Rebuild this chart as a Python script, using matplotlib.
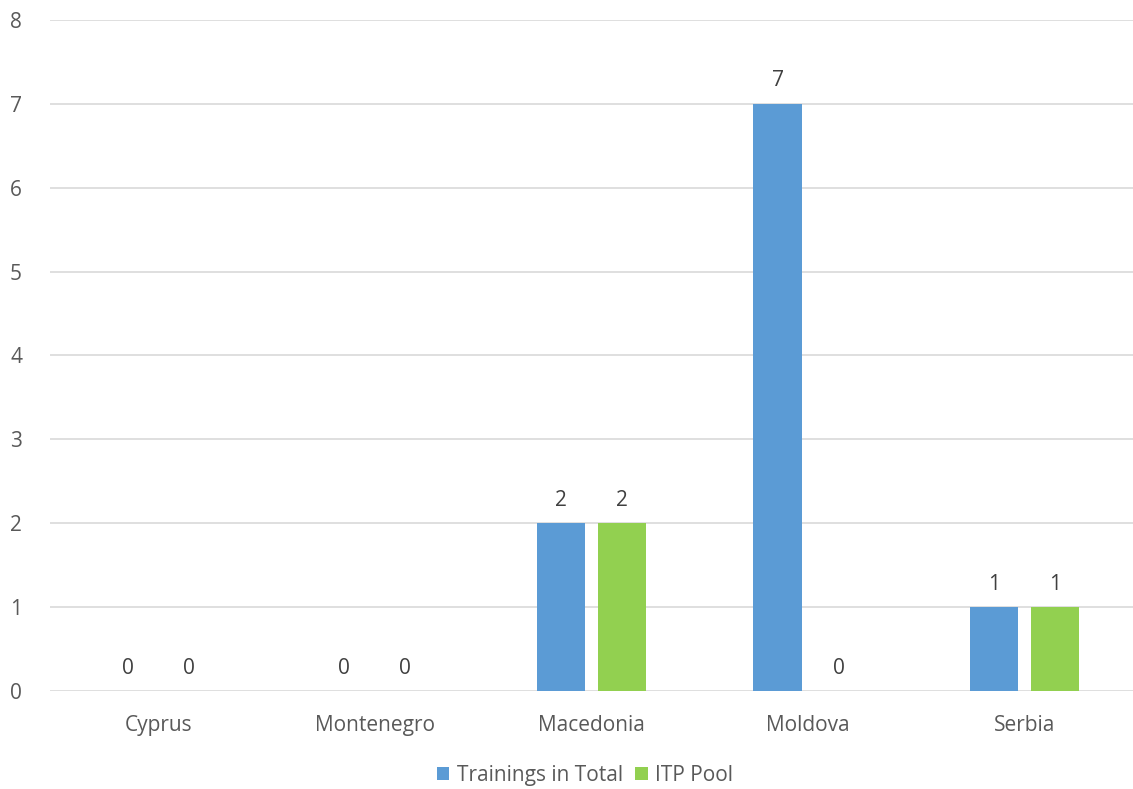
import matplotlib
matplotlib.use("Agg")
import matplotlib.pyplot as plt
import numpy as np

countries = ["Cyprus", "Montenegro", "Macedonia", "Moldova", "Serbia"]
trainings_total = [0, 0, 2, 7, 1]
itp_pool = [0, 0, 2, 0, 1]
series_names = ["Trainings in Total", "ITP Pool"]

plt.rcParams['font.family'] = ['Open Sans', 'DejaVu Sans']
text_color = '#595959'

fig = plt.figure(figsize=(11.33, 7.89), dpi=100)
ax = fig.add_axes([0.044, 0.1242, 0.956, 0.8505])

x = np.arange(len(countries))
width = 0.222
offset = 0.141

bars1 = ax.bar(x - offset, trainings_total, width, color='#5B9BD5', label=series_names[0], zorder=3)
bars2 = ax.bar(x + offset, itp_pool, width, color='#92D050', label=series_names[1], zorder=3)

for bars in (bars1, bars2):
    for b in bars:
        h = b.get_height()
        ax.annotate(f'{int(h)}', (b.get_x() + b.get_width() / 2, h),
                    xytext=(0, 9), textcoords='offset points',
                    ha='center', va='bottom', fontsize=15, color='#404040')

ax.set_xlim(-0.5, 4.5)
ax.set_ylim(0, 8)
ax.set_yticks(range(0, 9))
ax.set_xticks(x)
ax.set_xticklabels(countries)
ax.tick_params(axis='both', length=0, labelsize=15, colors=text_color)
ax.tick_params(axis='x', pad=17)
ax.tick_params(axis='y', pad=20)
ax.grid(axis='y', color='#D9D9D9', linewidth=1.2, zorder=0)
for s in ax.spines.values():
    s.set_visible(False)

ax.legend(loc='upper center', bbox_to_anchor=(0.494, -0.082), ncol=2, frameon=False,
          fontsize=15, handlelength=0.6, handleheight=0.6, handletextpad=0.35,
          columnspacing=0.6, labelcolor=text_color)

fig.savefig('out.png', dpi=100)
